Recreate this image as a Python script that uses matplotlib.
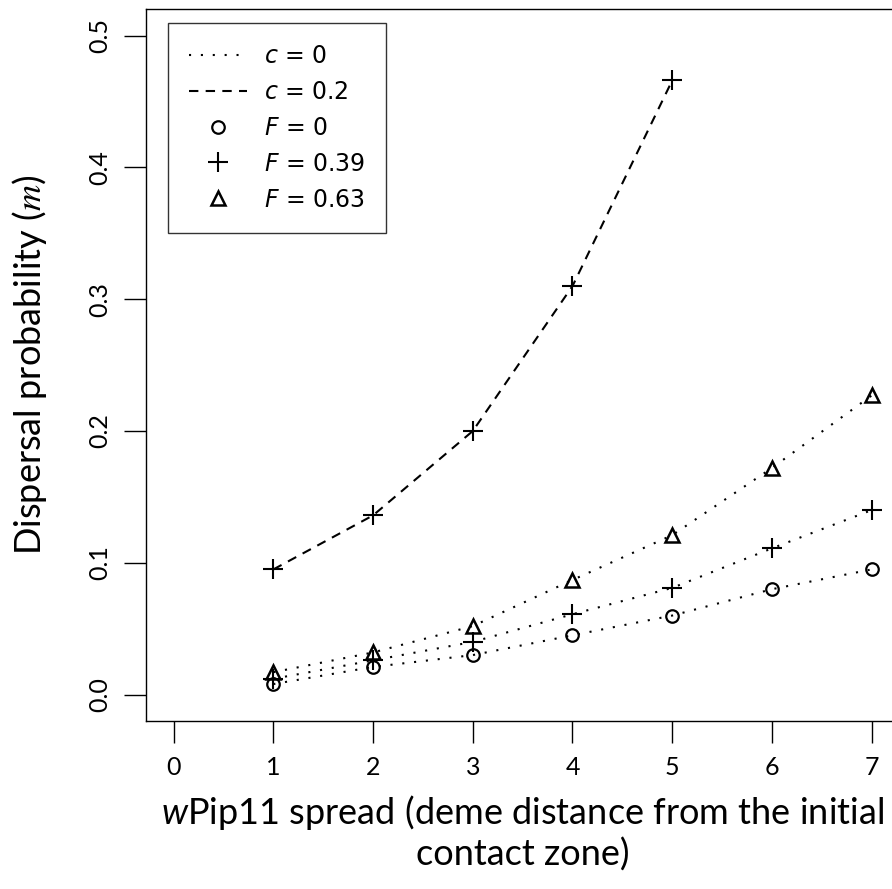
import matplotlib
matplotlib.use("Agg")
import matplotlib.pyplot as plt
from matplotlib.lines import Line2D

# distance des demes (x) et probabilites de dispersion
distancia = [1, 2, 3, 4, 5, 6, 7]
distancia_c02 = [1, 2, 3, 4, 5]

# c = 0.2, F = 0.39 (tracejado)
m_c02_F039 = [0.095, 0.136, 0.200, 0.310, 0.466]

# c = 0 (pontilhado)
m_c0_F0 = [0.008, 0.021, 0.030, 0.045, 0.060, 0.080, 0.095]
m_c0_F039 = [0.012, 0.026, 0.040, 0.061, 0.081, 0.111, 0.140]
m_c0_F063 = [0.017, 0.032, 0.052, 0.087, 0.121, 0.172, 0.227]

x_ticks = [0, 1, 2, 3, 4, 5, 6, 7]
y_ticks = [0.0, 0.1, 0.2, 0.3, 0.4, 0.5]
y_tick_labels = ["0.0", "0.1", "0.2", "0.3", "0.4", "0.5"]

fonte = "Lato"
plt.rcParams["mathtext.rm"] = "Lato"
plt.rcParams["mathtext.it"] = "Lato:italic"

fig = plt.figure(figsize=(8.92, 8.89), dpi=100)
ax = fig.add_axes([0.1633, 0.189, 0.8452, 0.8005])

pontilhado = (0, (1, 4.7))
tracejado = (0, (4.5, 3.5))

# curvas
ax.plot(distancia_c02, m_c02_F039, color="black", lw=1.5, ls=tracejado,
        marker="+", ms=14, mew=1.5)
ax.plot(distancia, m_c0_F0, color="black", lw=1.5, ls=pontilhado,
        marker="o", ms=9, mfc="none", mew=1.6)
ax.plot(distancia, m_c0_F039, color="black", lw=1.5, ls=pontilhado,
        marker="+", ms=14, mew=1.5)
ax.plot(distancia, m_c0_F063, color="black", lw=1.5, ls=pontilhado,
        marker="^", ms=10, mfc="none", mew=1.8)

ax.set_xlim(-0.28, 7.28)
ax.set_ylim(-0.02, 0.52)
ax.set_xticks(x_ticks)
ax.set_xticklabels([str(t) for t in x_ticks], fontsize=18, family=fonte)
ax.set_yticks(y_ticks)
ax.set_yticklabels(y_tick_labels, fontsize=18, family=fonte, rotation=90, va="center")
ax.tick_params(direction="out", length=16, width=1, pad=9)

for s in ax.spines.values():
    s.set_linewidth(1)

ax.set_xlabel("$\\mathit{w}$Pip11 spread (deme distance from the initial\ncontact zone)",
              fontsize=26, family=fonte, labelpad=10, linespacing=1.2,
              math_fontfamily="custom")
ax.set_ylabel("Dispersal probability ($m$)", fontsize=26, family=fonte, labelpad=28,
              math_fontfamily="stix")

# legenda
handles = [
    Line2D([], [], color="black", lw=1.5, ls=pontilhado),
    Line2D([], [], color="black", lw=1.5, ls=tracejado),
    Line2D([], [], color="black", ls="none", marker="o", ms=9, mfc="none", mew=1.6),
    Line2D([], [], color="black", ls="none", marker="+", ms=14, mew=1.5),
    Line2D([], [], color="black", ls="none", marker="^", ms=10, mfc="none", mew=1.8),
]
labels = ["$c$ = 0", "$c$ = 0.2", "$F$ = 0", "$F$ = 0.39", "$F$ = 0.63"]
plt.rcParams["mathtext.fontset"] = "dejavusans"
leg = ax.legend(handles, labels, loc="upper left", bbox_to_anchor=(0.0296, 0.9807),
                borderaxespad=0, fontsize=17, frameon=True, fancybox=False,
                edgecolor="black", handlelength=2.45, handletextpad=0.7,
                labelspacing=0.5, borderpad=0.9)
leg.get_frame().set_linewidth(1)

fig.savefig("out.png", dpi=100)
